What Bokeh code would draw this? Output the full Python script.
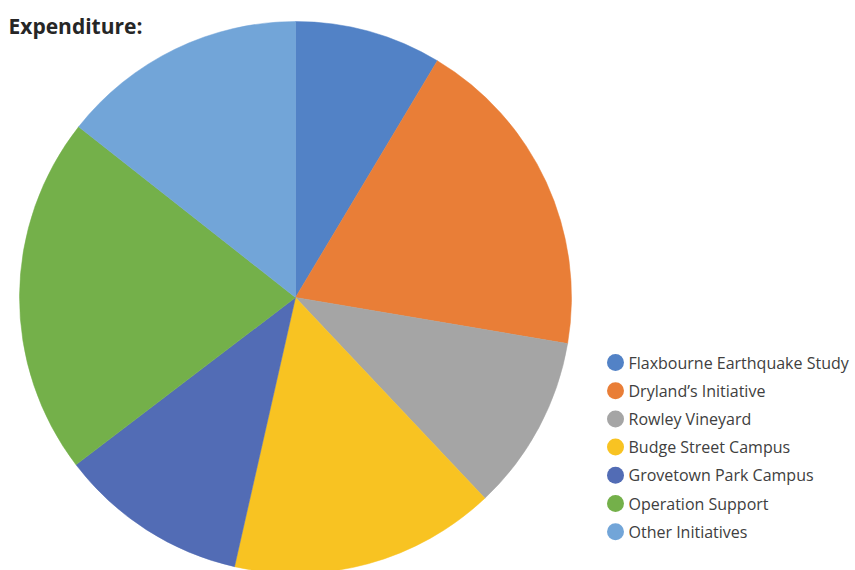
import numpy as np
from bokeh.plotting import figure
from bokeh.models import Range1d, ColumnDataSource
from bokeh.core.properties import value
from bokeh.embed import file_html
from bokeh.resources import INLINE

categories = ["Flaxbourne Earthquake Study", "Dryland\u2019s Initiative", "Rowley Vineyard",
              "Budge Street Campus", "Grovetown Park Campus", "Operation Support", "Other Initiatives"]
shares = [8.6, 19.1, 10.3, 15.6, 11.1, 21.0, 14.4]
colors = ["#5282C6", "#E97E37", "#A5A5A5", "#F8C322", "#526CB5", "#74B04A", "#72A5D8"]

W, H = 855, 570
cx, cy, r = 295, H - 297, 276

frac = np.array(shares) / sum(shares)
cum = np.concatenate([[0], np.cumsum(frac)])
start = np.pi / 2 - cum[:-1] * 2 * np.pi
end = np.pi / 2 - cum[1:] * 2 * np.pi

p = figure(width=W, height=H, output_backend="svg", toolbar_location=None,
           x_range=Range1d(0, W), y_range=Range1d(0, H), min_border=0)
p.axis.visible = False
p.grid.visible = False
p.outline_line_color = None
p.background_fill_color = "white"

src = ColumnDataSource(dict(start=start, end=end, color=colors))
p.wedge(x=cx, y=cy, radius=r, start_angle="start", end_angle="end", direction="clock",
        fill_color="color", line_color="color", line_width=0.5, source=src)

# legend
n = len(categories)
ly = H - (362 + np.arange(n) * 28.2)
lsrc = ColumnDataSource(dict(x=[615] * n, tx=[628] * n, y=ly, label=categories, color=colors))
p.scatter(x="x", y="y", size=17, marker="circle", fill_color="color", line_color=None, source=lsrc)
p.text(x="tx", y="y", text="label", text_font=value("Open Sans"), text_font_size="16px",
       text_color="#404040", text_baseline="middle", source=lsrc)

p.text(x=[8], y=[H - 25], text=["Expenditure:"], text_font=value("Open Sans"), text_font_size="21px",
       text_font_style="bold", text_color="#262626", text_baseline="middle")

open("out.html", "w").write(file_html(p, INLINE))
